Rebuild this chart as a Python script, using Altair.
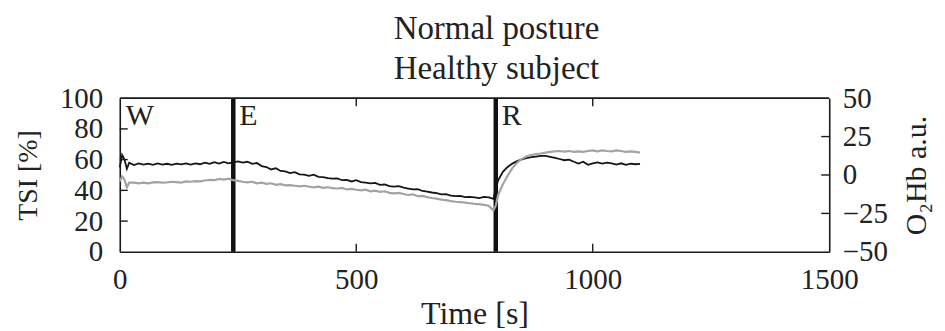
import altair as alt
import pandas as pd

# ---- data ----
TIME = [0, 5, 10, 15, 20] + list(range(30, 791, 10)) + [795] + list(range(800, 1101, 10))

TSI = [55, 63, 60, 54, 58,
       56.5, 57.5, 56.8, 57.4, 56.6, 57.5, 56.8, 57.3, 56.6, 57.4, 56.9, 57.6, 56.8, 57.5, 57.0, 58.0, 57.2, 58.3, 57.4, 58.5, 57.6, 58.2,
       58.8, 58.0, 58.6, 57.2, 57.8, 55.8, 55.2, 53.6, 54.4, 52.6, 52.4, 51.2, 51.8, 50.4, 50.2, 49.4, 50.2, 48.8, 48.6, 48.0,
       47.6, 47.8, 46.6, 46.8, 45.8, 46.6, 45.4, 45.0, 44.6, 44.8, 43.6, 43.8, 42.8, 42.4, 42.8, 41.8, 41.2, 40.6, 40.8, 39.6,
       39.2, 38.6, 38.2, 37.4, 37.6, 36.6, 36.2, 36.4, 35.6, 35.8, 35.4, 35.0, 35.8, 35.4, 34.4,
       41, 46.5, 52, 55.2, 57.4, 59, 60.2, 61, 61.6, 62, 62.4, 62.4, 61.8, 61.2, 60.4, 59.6, 60, 58.6, 57.4, 58.6, 56.6, 57.6,
       58.2, 57.4, 58.0, 57.6, 56.8, 57.6, 56.6, 57.4, 57.0, 57.2]

O2HB = [-4, -1, -3, -8, -5,
        -5, -5.5, -5, -5.4, -4.8, -4.6, -5, -4.8, -4.4, -4.6, -4.9, -4.2, -4.4, -4.0, -4.1, -3.6, -3.2, -3.4, -2.6, -3.0, -2.4, -3.4,
        -3.8, -4.4, -4.8, -4.4, -5.4, -5.0, -5.8, -5.4, -6.4, -6.0, -6.8, -6.6, -7.0, -7.4, -7.0, -7.6, -8.0, -7.6, -8.4, -8.0,
        -8.6, -8.8, -8.4, -9.4, -9.0, -9.6, -10.0, -9.6, -10.6, -10.2, -11.0, -10.6, -11.6, -12.0, -11.6, -12.4, -13.0, -12.6, -13.8, -13.6,
        -14.4, -15.0, -15.4, -16.0, -16.4, -17.0, -17.4, -17.6, -18.0, -18.4, -18.8, -19.0, -19.4, -20.0, -23.0,
        -20, -13, -6, -0.5, 4.5, 8, 10.5, 12, 13, 13.6, 14, 14.6, 15, 15.4, 15.6, 15.2, 15.6, 15.0, 15.4, 15.0, 15.6, 16.0,
        15.4, 16.0, 15.6, 15.4, 16.0, 15.6, 15.0, 15.4, 15.0, 14.6]

PHASES = ["W", "E", "R"]
PHASE_START = [0, 240, 795]
MARKER_TIMES = [240, 795]

X_DOMAIN = [0, 1500]
TSI_DOMAIN = [0, 100]
O2_DOMAIN = [-50, 50]
X_TICKS = [0, 500, 1000, 1500]
TSI_TICKS = [0, 20, 40, 60, 80, 100]
O2_TICKS = [-50, -25, 0, 25, 50]
TSI_INNER = [20, 40, 60, 80]
O2_INNER = [-25, 0, 25]
X_INNER = [500, 1000]

SERIF = "Liberation Serif"
INK = "#222222"
FRAME = "#1a1a1a"

df = pd.DataFrame({"t": TIME, "tsi": TSI, "o2": O2HB})
phases = pd.DataFrame({"t": PHASE_START, "label": PHASES, "top": [TSI_DOMAIN[1]] * len(PHASES)})
markers = pd.DataFrame({"t": MARKER_TIMES})
top_edge = pd.DataFrame({"ev": [TSI_DOMAIN[1]]})
left_df = pd.DataFrame({"kx": [X_DOMAIN[0]] * len(TSI_INNER), "ky": TSI_INNER})
right_df = pd.DataFrame({"kx": [X_DOMAIN[1]] * len(O2_INNER), "ky2": O2_INNER})
bot_df = pd.DataFrame({"kx": X_INNER, "ky": [TSI_DOMAIN[0]] * len(X_INNER)})
top_df = pd.DataFrame({"kx": X_INNER, "ky": [TSI_DOMAIN[1]] * len(X_INNER)})

xs = alt.Scale(domain=X_DOMAIN, nice=False, zero=False)
ys = alt.Scale(domain=TSI_DOMAIN, nice=False, zero=False)
ys2 = alt.Scale(domain=O2_DOMAIN, nice=False, zero=False)

dom = dict(domain=True, domainColor=FRAME, domainWidth=1.6)
x_axis = alt.Axis(values=X_TICKS, format="d", ticks=False, grid=False,
                  labelFlush=False, labelPadding=14, titlePadding=4, titleFontSize=32, **dom)
y_axis = alt.Axis(values=TSI_TICKS, format="d", ticks=False, grid=False,
                  labelFlush=False, labelPadding=17, titlePadding=17, titleFontSize=28, **dom)
y2_axis = alt.Axis(orient="right", values=O2_TICKS, format="d", ticks=False, grid=False,
                   labelFlush=False, labelPadding=13, titlePadding=14, titleFontSize=30,
                   titleAngle=270, titleBaseline="top", **dom)


def xenc(field):
    return alt.X(field, type="quantitative", scale=xs, title="Time [s]", axis=x_axis)


def yenc(field):
    return alt.Y(field, type="quantitative", scale=ys, title="TSI [%]", axis=y_axis)


def y2enc(field):
    return alt.Y(field, type="quantitative", scale=ys2, title="O₂Hb a.u.", axis=y2_axis)


tsi_line = alt.Chart(df).mark_line(color="#151515", strokeWidth=1.8).encode(x=xenc("t"), y=yenc("tsi"))

rules = alt.Chart(markers).mark_rule(color="#111111", strokeWidth=4.5).encode(x=xenc("t"))

labels = alt.Chart(phases).mark_text(
    font=SERIF, fontSize=30, align="left", baseline="alphabetic", dx=6, dy=27, color=INK
).encode(x=xenc("t"), y=yenc("top"), text="label:N")

top_rule = alt.Chart(top_edge).mark_rule(color=FRAME, strokeWidth=1.6).encode(y=yenc("ev"))

tick_style = dict(shape="stroke", size=64, strokeWidth=1.4, color=FRAME, filled=False, opacity=1)

left_ticks = alt.Chart(left_df).mark_point(xOffset=4, **tick_style).encode(x=xenc("kx"), y=yenc("ky"))
bottom_ticks = alt.Chart(bot_df).mark_point(yOffset=-4, angle=90, **tick_style).encode(x=xenc("kx"), y=yenc("ky"))
top_ticks = alt.Chart(top_df).mark_point(yOffset=4, angle=90, **tick_style).encode(x=xenc("kx"), y=yenc("ky"))

o2_line = alt.Chart(df).mark_line(color="#a3a3a3", strokeWidth=2.2).encode(x=xenc("t"), y=y2enc("o2"))

right_ticks = alt.Chart(right_df).mark_point(xOffset=-4, **tick_style).encode(x=xenc("kx"), y=y2enc("ky2"))

left = alt.layer(tsi_line, rules, labels, top_rule, left_ticks, bottom_ticks, top_ticks)
right = alt.layer(o2_line, right_ticks)

chart = alt.layer(left, right).resolve_scale(y="independent").properties(
    width=711,
    height=154,
    title=alt.TitleParams(["Normal posture", "Healthy subject"], font=SERIF, fontSize=33,
                          fontWeight="normal", color=INK, lineHeight=40, dx=22,
                          frame="group", offset=-2),
    padding={"left": 6, "top": 5, "right": 5, "bottom": 0},
).configure_view(
    strokeWidth=0
).configure_axis(
    labelFont=SERIF, labelFontSize=29, labelColor=INK,
    titleFont=SERIF, titleFontWeight="normal", titleColor=INK,
)

chart.save("out.html", embed_options={"renderer": "svg", "actions": False})
